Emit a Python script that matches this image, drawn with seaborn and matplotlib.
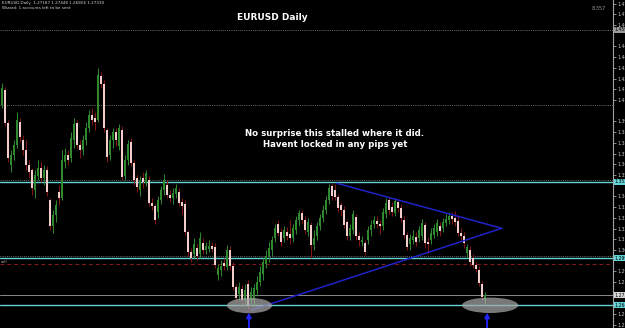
import matplotlib
matplotlib.use("Agg")
import matplotlib.pyplot as plt
from matplotlib.patches import Ellipse
from matplotlib.ticker import FormatStrFormatter
import matplotlib.transforms as mtransforms
import numpy as np
import pandas as pd
import seaborn as sns

# ---------------- data (EURUSD daily candles) ----------------
opens = [1.4065, 1.4170, 1.3939, 1.3645, 1.3715, 1.3785, 1.3946, 1.3820, 1.3750, 1.3645,
         1.3610, 1.3470, 1.3568, 1.3624, 1.3554, 1.3610, 1.3400, 1.3218, 1.3295, 1.3456,
         1.3414, 1.3666, 1.3715, 1.3694, 1.3820, 1.3939, 1.3785, 1.3750, 1.3820, 1.3904,
         1.3995, 1.3974, 1.3960, 1.4268, 1.4212, 1.3890, 1.3715, 1.3820, 1.3876, 1.3778,
         1.3890, 1.3568, 1.3680, 1.3806, 1.3659, 1.3554, 1.3470, 1.3554, 1.3519, 1.3540,
         1.3379, 1.3358, 1.3316, 1.3400, 1.3470, 1.3505, 1.3435, 1.3414, 1.3442, 1.3456,
         1.3386, 1.3372, 1.3176, 1.3036, 1.3022, 1.3064, 1.3022, 1.3099, 1.3050, 1.3057,
         1.3078, 1.3071, 1.2875, 1.2910, 1.2959, 1.2931, 1.3050, 1.2938, 1.2791, 1.2742,
         1.2777, 1.2700, 1.2812, 1.2700, 1.2700, 1.2770, 1.2826, 1.2882, 1.2952, 1.3008,
         1.3050, 1.3134, 1.3232, 1.3176, 1.3134, 1.3176, 1.3162, 1.3134, 1.3190, 1.3260,
         1.3309, 1.3260, 1.3176, 1.3225, 1.3085, 1.3148, 1.3218, 1.3274, 1.3330, 1.3400,
         1.3498, 1.3470, 1.3421, 1.3365, 1.3330, 1.3246, 1.3148, 1.3190, 1.3281, 1.3148,
         1.3106, 1.3099, 1.3120, 1.3190, 1.3232, 1.3253, 1.3232, 1.3218, 1.3302, 1.3400,
         1.3351, 1.3309, 1.3386, 1.3344, 1.3260, 1.3155, 1.3092, 1.3120, 1.3141, 1.3134,
         1.3148, 1.3225, 1.3106, 1.3120, 1.3155, 1.3176, 1.3218, 1.3204, 1.3239, 1.3260,
         1.3288, 1.3274, 1.3253, 1.3169, 1.3148, 1.3029, 1.3050, 1.2994, 1.2945, 1.2910,
         1.2812, 1.2700]
highs = [1.4219, 1.4191, 1.3960, 1.3750, 1.3820, 1.4016, 1.3974, 1.3855, 1.3820, 1.3680,
         1.3624, 1.3610, 1.3680, 1.3666, 1.3645, 1.3638, 1.3414, 1.3330, 1.3400, 1.3505,
         1.3750, 1.3764, 1.3750, 1.3876, 1.3974, 1.3960, 1.3820, 1.3855, 1.3946, 1.4030,
         1.4044, 1.4016, 1.4324, 1.4296, 1.4240, 1.3904, 1.3855, 1.3904, 1.3904, 1.3932,
         1.3918, 1.3715, 1.3820, 1.3834, 1.3680, 1.3575, 1.3568, 1.3596, 1.3610, 1.3568,
         1.3414, 1.3372, 1.3428, 1.3498, 1.3582, 1.3540, 1.3470, 1.3484, 1.3512, 1.3484,
         1.3414, 1.3400, 1.3190, 1.3064, 1.3134, 1.3092, 1.3176, 1.3134, 1.3106, 1.3120,
         1.3106, 1.3099, 1.2952, 1.2980, 1.2994, 1.3085, 1.3078, 1.2966, 1.2812, 1.2826,
         1.2805, 1.2812, 1.2840, 1.2791, 1.2812, 1.2868, 1.2938, 1.2994, 1.3050, 1.3106,
         1.3148, 1.3232, 1.3260, 1.3204, 1.3218, 1.3211, 1.3260, 1.3232, 1.3288, 1.3330,
         1.3330, 1.3288, 1.3274, 1.3246, 1.3190, 1.3246, 1.3302, 1.3365, 1.3428, 1.3512,
         1.3519, 1.3512, 1.3442, 1.3386, 1.3358, 1.3260, 1.3232, 1.3330, 1.3302, 1.3176,
         1.3148, 1.3120, 1.3218, 1.3260, 1.3288, 1.3288, 1.3260, 1.3344, 1.3414, 1.3421,
         1.3386, 1.3414, 1.3407, 1.3372, 1.3288, 1.3176, 1.3162, 1.3190, 1.3176, 1.3218,
         1.3267, 1.3246, 1.3141, 1.3204, 1.3232, 1.3267, 1.3246, 1.3274, 1.3302, 1.3316,
         1.3316, 1.3323, 1.3288, 1.3204, 1.3176, 1.3092, 1.3078, 1.3022, 1.2966, 1.2938,
         1.2833, 1.2756]
lows = [1.4044, 1.3918, 1.3666, 1.3596, 1.3680, 1.3764, 1.3806, 1.3715, 1.3610, 1.3554,
        1.3435, 1.3414, 1.3540, 1.3526, 1.3505, 1.3428, 1.3190, 1.3169, 1.3246, 1.3365,
        1.3400, 1.3624, 1.3645, 1.3666, 1.3764, 1.3764, 1.3694, 1.3715, 1.3785, 1.3876,
        1.3925, 1.3890, 1.3946, 1.4184, 1.3876, 1.3666, 1.3680, 1.3764, 1.3778, 1.3750,
        1.3540, 1.3540, 1.3645, 1.3638, 1.3505, 1.3456, 1.3428, 1.3484, 1.3498, 1.3358,
        1.3330, 1.3232, 1.3274, 1.3372, 1.3435, 1.3414, 1.3386, 1.3372, 1.3414, 1.3358,
        1.3302, 1.3155, 1.3008, 1.2966, 1.2994, 1.2980, 1.2994, 1.3022, 1.3022, 1.3036,
        1.3036, 1.2924, 1.2840, 1.2868, 1.2910, 1.2910, 1.2910, 1.2770, 1.2686, 1.2700,
        1.2672, 1.2665, 1.2637, 1.2665, 1.2658, 1.2728, 1.2798, 1.2840, 1.2924, 1.2966,
        1.3008, 1.3106, 1.3148, 1.3078, 1.3106, 1.3120, 1.3092, 1.3106, 1.3162, 1.3218,
        1.3232, 1.3162, 1.3148, 1.2994, 1.3050, 1.3120, 1.3190, 1.3246, 1.3302, 1.3372,
        1.3400, 1.3400, 1.3316, 1.3288, 1.3204, 1.3120, 1.3120, 1.3162, 1.3120, 1.3078,
        1.3078, 1.3015, 1.3092, 1.3148, 1.3204, 1.3204, 1.3162, 1.3190, 1.3274, 1.3302,
        1.3288, 1.3288, 1.3316, 1.3246, 1.3134, 1.3050, 1.3050, 1.3092, 1.3078, 1.3106,
        1.3120, 1.3064, 1.3029, 1.3092, 1.3134, 1.3148, 1.3148, 1.3176, 1.3218, 1.3232,
        1.3232, 1.3218, 1.3148, 1.3120, 1.3064, 1.2994, 1.2938, 1.2924, 1.2896, 1.2798,
        1.2700, 1.2672]
closes = [1.4184, 1.3939, 1.3694, 1.3715, 1.3785, 1.3960, 1.3841, 1.3750, 1.3645, 1.3596,
          1.3484, 1.3575, 1.3624, 1.3554, 1.3610, 1.3456, 1.3218, 1.3295, 1.3365, 1.3414,
          1.3680, 1.3715, 1.3680, 1.3834, 1.3932, 1.3785, 1.3750, 1.3820, 1.3904, 1.3995,
          1.3960, 1.3946, 1.4275, 1.4212, 1.3904, 1.3701, 1.3820, 1.3876, 1.3820, 1.3904,
          1.3561, 1.3680, 1.3792, 1.3659, 1.3540, 1.3491, 1.3540, 1.3526, 1.3589, 1.3379,
          1.3358, 1.3260, 1.3400, 1.3470, 1.3540, 1.3435, 1.3414, 1.3449, 1.3484, 1.3379,
          1.3358, 1.3176, 1.3036, 1.2994, 1.3092, 1.3008, 1.3134, 1.3050, 1.3078, 1.3078,
          1.3057, 1.2945, 1.2924, 1.2938, 1.2938, 1.3050, 1.2938, 1.2791, 1.2714, 1.2791,
          1.2700, 1.2770, 1.2658, 1.2756, 1.2784, 1.2826, 1.2896, 1.2966, 1.3008, 1.3064,
          1.3120, 1.3204, 1.3169, 1.3106, 1.3190, 1.3148, 1.3134, 1.3204, 1.3260, 1.3309,
          1.3260, 1.3190, 1.3246, 1.3085, 1.3134, 1.3218, 1.3274, 1.3330, 1.3400, 1.3484,
          1.3428, 1.3421, 1.3344, 1.3330, 1.3225, 1.3148, 1.3204, 1.3302, 1.3148, 1.3120,
          1.3120, 1.3036, 1.3190, 1.3225, 1.3260, 1.3232, 1.3218, 1.3316, 1.3379, 1.3330,
          1.3316, 1.3393, 1.3344, 1.3274, 1.3155, 1.3071, 1.3134, 1.3148, 1.3106, 1.3190,
          1.3239, 1.3099, 1.3092, 1.3169, 1.3204, 1.3239, 1.3183, 1.3246, 1.3267, 1.3288,
          1.3267, 1.3246, 1.3169, 1.3148, 1.3099, 1.3071, 1.2966, 1.2945, 1.2917, 1.2819,
          1.2721, 1.2735]

# horizontal levels drawn on the chart
dotted_levels = [1.4590, 1.4065, 1.3542, 1.3006]
cyan_levels = [1.3528, 1.2992, 1.2663]
sell_level = 1.2950
bid_level = 1.2733

# right price-scale tick values
price_ticks = [1.4775, 1.4700, 1.4625, 1.4475, 1.4400, 1.4325, 1.4250, 1.4175,
               1.4100, 1.3950, 1.3875, 1.3800, 1.3725, 1.3650, 1.3575, 1.3425,
               1.3350, 1.3275, 1.3200, 1.3125, 1.3050, 1.2900, 1.2825, 1.2600, 1.2525]

# triangle trend lines (bar index, price)
upper_line_x = [111.6, 166.6]
upper_line_y = [1.3517, 1.3202]
lower_line_x = [83.3, 166.6]
lower_line_y = [1.2630, 1.3202]

# highlighted double-bottom ellipses and arrows (bar index, price)
ellipse_x = [82.5, 162.7]
ellipse_y = [1.2661, 1.2663]
arrow_x = [82.3, 161.7]
arrow_tip = 1.2612

title = "EURUSD Daily"
comment = "No surprise this stalled where it did.\nHavent locked in any pips yet"
header_line1 = "EURUSD,Daily  1.27187 1.27448 1.26806 1.27330"
header_line2 = "Wizard: 1 accounts left to be sent"

# ---------------- figure ----------------
sns.set_theme(style="dark", rc={"axes.facecolor": "black", "figure.facecolor": "black",
                                "axes.grid": False})
plt.rcParams["font.family"] = ["DejaVu Sans"]

df = pd.DataFrame({"bar": np.arange(len(closes)), "open": opens, "high": highs,
                   "low": lows, "close": closes})
df["bull"] = df["close"] >= df["open"]

fig = plt.figure(figsize=(6.25, 3.28), dpi=100)
ax = fig.add_axes([0, 0, 613 / 625, 1])
ax.set_facecolor("black")

bull_body, bull_wick = "#2f8a2f", "#2f8a2f"
bear_body, bear_wick = "#f3cccc", "#8a1616"

# levels
for lv in dotted_levels:
    ax.axhline(lv, color="#6a6a6a", lw=0.7, ls=(0, (1, 1.2)), zorder=1)
for lv in cyan_levels:
    ax.axhline(lv, color="#63d3d6", lw=1.0, zorder=2)
ax.axhline(sell_level, color="#8b1a1a", lw=0.7, ls=(0, (4, 3)), zorder=1)
ax.axhline(bid_level, color="#8a8a8a", lw=0.7, zorder=1)

# candles
bull = df[df["bull"]]
bear = df[~df["bull"]]
ax.vlines(bull["bar"], bull["low"], bull["high"], colors=bull_wick, lw=0.7, zorder=3)
ax.vlines(bear["bar"], bear["low"], bear["high"], colors=bear_wick, lw=0.7, zorder=3)
ax.bar(bull["bar"], (bull["close"] - bull["open"]).clip(lower=0.0002), bottom=bull["open"],
       width=0.6, color=bull_body, lw=0, zorder=4)
ax.bar(bear["bar"], (bear["open"] - bear["close"]).clip(lower=0.0002), bottom=bear["close"],
       width=0.6, color=bear_body, lw=0, zorder=4)

# triangle
sns.lineplot(x=upper_line_x, y=upper_line_y, ax=ax, color="#1f22c8", lw=1.1,
             sort=False, estimator=None, zorder=5)
sns.lineplot(x=lower_line_x, y=lower_line_y, ax=ax, color="#1f22c8", lw=1.1,
             sort=False, estimator=None, zorder=5)

# ellipses
for ex, ey, w in zip(ellipse_x, ellipse_y, [15.0, 18.7]):
    ax.add_patch(Ellipse((ex, ey), width=w, height=0.0108, facecolor="#a8a8a8",
                         edgecolor="none", alpha=0.72, zorder=6))

ax.set_xlim(-0.667, 203.67)
ax.set_ylim(1.2504, 1.4800)

# arrows
for axx in arrow_x:
    ax.annotate("", xy=(axx, arrow_tip), xytext=(axx, 1.2500),
                arrowprops=dict(arrowstyle="-|>", color="#2424ff", lw=1.3,
                                mutation_scale=7, shrinkA=0, shrinkB=0), zorder=7)

# axis styling
for s in ["left", "top", "bottom"]:
    ax.spines[s].set_visible(False)
ax.spines["right"].set_color("#a0a0a0")
ax.spines["right"].set_linewidth(0.8)
ax.set_xticks([])
ax.yaxis.tick_right()
ax.set_yticks(price_ticks)
ax.yaxis.set_major_formatter(FormatStrFormatter("%.4f"))
ax.tick_params(axis="y", colors="#c8c8c8", labelsize=3.3, length=2, width=0.5, pad=1)
ax.set_xlabel("")
ax.set_ylabel("")

# price tags on the right
tr = mtransforms.blended_transform_factory(ax.transAxes, ax.transData)
for lv in cyan_levels:
    ax.text(1.003, lv, f"{lv:.4f}", transform=tr, fontsize=3.3, color="black",
            va="center", ha="left", clip_on=False,
            bbox=dict(boxstyle="square,pad=0.15", fc="#63d3d6", ec="none"))
ax.text(1.003, bid_level, f"{bid_level:.4f}", transform=tr, fontsize=3.3, color="black",
        va="center", ha="left", clip_on=False,
        bbox=dict(boxstyle="square,pad=0.15", fc="#d8d8d8", ec="none"))
ax.text(1.003, dotted_levels[0], f"{dotted_levels[0]:.4f}", transform=tr, fontsize=3.3,
        color="black", va="center", ha="left", clip_on=False,
        bbox=dict(boxstyle="square,pad=0.15", fc="#9a9a9a", ec="none"))

# texts
fig.text(272 / 625, 1 - 18 / 328, title, ha="center", va="center", color="white",
         fontsize=6.5, fontweight="bold")
fig.text(335 / 625, 1 - 139 / 328, comment, ha="center", va="center", color="white",
         fontsize=6.2, fontweight="bold", linespacing=1.15)
fig.text(2 / 625, 1 - 3 / 328, header_line1, ha="left", va="center", color="#d0d0d0",
         fontsize=3.0)
fig.text(2 / 625, 1 - 8 / 328, header_line2, ha="left", va="center", color="#d0d0d0",
         fontsize=3.0)
fig.text(599 / 625, 1 - 8 / 328, "8.357", ha="center", va="center", color="#9a9a9a",
         fontsize=3.6)
fig.text(1 / 625, 1 - 262 / 328, "sell", ha="left", va="center", color="#c0c0c0",
         fontsize=2.8)

fig.savefig("out.png", dpi=100, facecolor="black")
